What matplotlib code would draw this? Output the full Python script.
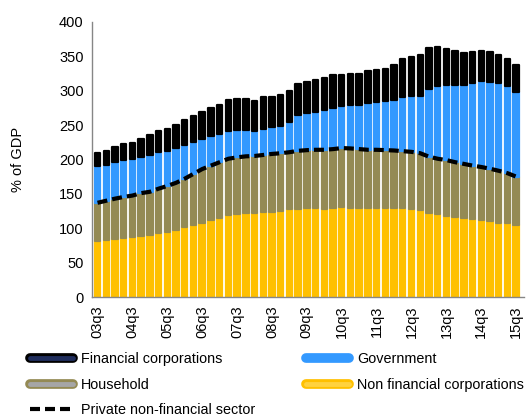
import numpy as np
import matplotlib.pyplot as plt
from matplotlib.lines import Line2D
import matplotlib.patheffects as pe

plt.rcParams['font.family'] = ['Liberation Sans', 'DejaVu Sans']

# quarters 03q3 .. 15q3
quarters = [f"{y:02d}q{q}" for y in range(3, 16) for q in range(1, 5)]
quarters = quarters[2:2 + 49]
tick_labels = quarters[::4]

# % of GDP
non_fin_corp = [81.5, 83.5, 84.5, 86, 87, 89, 90.5, 92.5, 94, 97.5,
                102, 104.5, 108, 112.5, 115, 119, 120.5, 122, 121.5, 123.5,
                124, 125.5, 127.5, 128.5, 129, 129, 128, 129.5, 130.5, 130,
                130, 129.5, 129.5, 129.5, 129.5, 130, 128.5, 126.5, 121.5, 120.5,
                118.5, 117, 114.5, 113, 112, 110, 108, 107, 104.5]
household = [55.5, 56.5, 58.5, 59.5, 60.5, 62, 62.5, 65, 67.5, 68.5,
             70, 74.5, 78, 78.5, 81, 82, 82.5, 82.5, 83.5, 83,
             84, 83.5, 83, 84, 84.5, 85, 86, 85.5, 86, 86,
             85, 84.5, 84.5, 84, 83.5, 82, 82.5, 82.5, 82.5, 80.5,
             80.5, 79, 79, 78, 77, 76.5, 75.5, 73, 70.5]
government = [53.5, 52, 53, 53.5, 52.5, 53, 53.5, 53.5, 51, 50.5,
              49, 46, 43.5, 43, 41.5, 41, 40, 38.5, 37, 38,
              38.5, 40, 44.5, 52.5, 53.5, 55, 58, 59.5, 61.5, 63,
              64.5, 67.5, 69.5, 71, 74, 78.5, 80.5, 83.5, 98.5, 105,
              109.5, 112.5, 115, 120.5, 125.5, 126.5, 127.5, 126, 123.5]
financial = [18.5, 20.5, 22.5, 23, 24.5, 26, 29, 31, 31.5, 33.5,
             36.5, 38.5, 40, 40.5, 42, 44.5, 45, 45, 43.5, 45.5,
             43.5, 44, 45, 45, 45, 46, 46, 47.5, 45, 45,
             44, 46.5, 46.5, 46.5, 50.5, 55.5, 57.5, 59.5, 59, 58,
             52, 49.5, 46.5, 44.5, 43.5, 43, 41, 40, 38.5]

c_fin = '#000000'
c_gov = '#3399FF'
c_hh = '#948A54'
c_nfc = '#FFC000'
dash = (0, (2.4, 1.2))


def draw_chart():
    fig = plt.figure(figsize=(5.32, 4.19), dpi=100)
    ax = fig.add_axes([0.173, 0.291, 0.812, 0.657])

    x = np.arange(len(quarters))
    nfc = np.array(non_fin_corp)
    hh = np.array(household)
    gov = np.array(government)
    fin = np.array(financial)

    kw = dict(width=0.62, linewidth=1.6, joinstyle='round')
    ax.bar(x, nfc, color=c_nfc, edgecolor=c_nfc, **kw)
    ax.bar(x, hh, bottom=nfc, color=c_hh, edgecolor=c_hh, **kw)
    ax.bar(x, gov, bottom=nfc + hh, color=c_gov, edgecolor=c_gov, **kw)
    ax.bar(x, fin, bottom=nfc + hh + gov, color=c_fin, edgecolor=c_fin, **kw)

    # private non-financial sector = households + non financial corporations
    ax.plot(x, nfc + hh, color='black', linewidth=3.0, linestyle=dash)

    ax.set_xlim(-0.63, 48.9)
    ax.set_ylim(0, 400)
    ax.set_yticks(range(0, 401, 50))
    ax.set_xticks(x[::4])
    ax.set_xticklabels(tick_labels, rotation=90)
    ax.tick_params(axis='both', length=0, labelsize=10.5, colors='black')
    ax.tick_params(axis='x', pad=6)
    ax.tick_params(axis='y', pad=6)
    for s in ['top', 'right']:
        ax.spines[s].set_visible(False)
    for s in ['left', 'bottom']:
        ax.spines[s].set_color('#868686')
        ax.spines[s].set_linewidth(1.0)

    fig.text(0.034, 0.62, '% of GDP', rotation=90, ha='center', va='center',
             fontsize=10.5)

    def icon(outer, inner):
        return Line2D([], [], color=inner, linewidth=3.5,
                      solid_capstyle='round',
                      path_effects=[pe.Stroke(linewidth=7, foreground=outer,
                                              capstyle='round'),
                                    pe.Normal()])

    handles = [icon(c_fin, '#1F2D5C'), icon(c_hh, '#A6A6A6'),
               Line2D([], [], color='black', linewidth=3.0, linestyle=dash),
               icon(c_gov, c_gov), icon(c_nfc, '#FFD23F')]
    labels = ['Financial corporations', 'Household',
              'Private non-financial sector', 'Government',
              'Non financial corporations']
    fig.legend(handles, labels, ncol=2, loc='upper left',
               bbox_to_anchor=(0.057, 0.159), frameon=False, fontsize=10.4,
               handlelength=2.95, handletextpad=0.55, columnspacing=3.55,
               labelspacing=0.8, borderpad=0, borderaxespad=0)

    fig.savefig('out.png', dpi=100)


if __name__ == "__main__":
    draw_chart()
